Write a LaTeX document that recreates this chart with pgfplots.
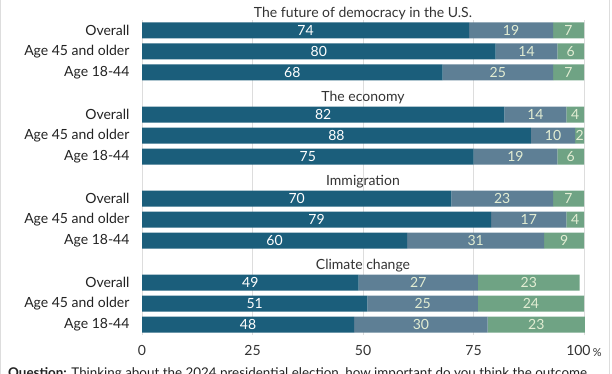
\documentclass[border=0pt]{standalone}
\usepackage{pgfplots}
\pgfplotsset{compat=1.18}
\usepackage{pgfplotstable}
\usepackage{fontspec}
\setmainfont{Lato}
\definecolor{cA}{HTML}{1B5E7B}
\definecolor{cB}{HTML}{5E7F95}
\definecolor{cC}{HTML}{6FA384}
\definecolor{lbl}{HTML}{E2EDD3}
\definecolor{gridc}{HTML}{DDDDDD}
\definecolor{txt}{HTML}{222222}
\definecolor{ttl}{HTML}{333333}

% y: row position; a, b, c: bar lengths; la, lb, lc: printed labels
\pgfplotstableread{
y    a   b     c     la  lb  lc
-1   74  19    7     74  19  7
-2   80  14    6     80  14  6
-3   68  25    7     68  25  7
-5   82  14    4     82  14  4
-6   88  10    2     88  10  2
-7   75  19    6     75  19  6
-9   70  23    7     70  23  7
-10  79  17    4     79  17  4
-11  60  31    9     60  31  9
-13  49  27    23    49  27  23
-14  51  25    24    51  25  24
-15  48  30.2  22    48  30  23
}\datatable

\pgfplotsset{
  commonaxis/.style={
    at={(142pt,-335pt)}, anchor=south west,
    scale only axis, width=442pt, height=315pt,
    xmin=0, xmax=100, ymin=-15.5, ymax=-0.5,
    axis line style={draw=none},
    tick style={draw=none},
    clip=false,
  },
  numlbl/.style={only marks, mark=none, nodes near coords, point meta=explicit symbolic,
    every node near coord/.append style={font=\fontsize{14}{16}\selectfont, anchor=center, inner sep=0pt, text=#1}},
}

\begin{document}
\begin{tikzpicture}[x=1pt,y=1pt]
\useasboundingbox (0,0) rectangle (612,-374);
\clip (0,0) rectangle (612,-374);
\draw[gridc,line width=1pt] (0.5,0) -- (0.5,-374);
\draw[gridc,line width=1pt] (609.5,0) -- (609.5,-374);
\begin{axis}[
  commonaxis,
  xbar stacked, bar width=16pt,
  xmajorgrids, grid style={gridc, line width=0.8pt},
  xtick={0,25,50,75,100},
  xticklabels={0,25,50,75,{100\,\raisebox{-0.5pt}{\fontsize{11}{12}\selectfont\%}}},
  xticklabel style={font=\fontsize{14}{16}\selectfont, text=ttl, yshift=-7pt},
  ytick={-1,-2,-3,-5,-6,-7,-9,-10,-11,-13,-14,-15},
  yticklabels={Overall,Age 45 and older,Age 18-44,Overall,Age 45 and older,Age 18-44,Overall,Age 45 and older,Age 18-44,Overall,Age 45 and older,Age 18-44},
  yticklabel style={font=\fontsize{14}{16}\selectfont, text=txt, xshift=-9pt},
  /pgf/number format/assume math mode=true,
]
\addplot[fill=cA, draw=none] table[x=a, y=y] {\datatable};
\addplot[fill=cB, draw=none] table[x=b, y=y] {\datatable};
\addplot[fill=cC, draw=none] table[x=c, y=y] {\datatable};
\node[font=\fontsize{14}{16}\selectfont, text=ttl] at (axis cs:50,-0.19) {The future of democracy in the U.S.};
\node[font=\fontsize{14}{16}\selectfont, text=ttl] at (axis cs:50,-4.19) {The economy};
\node[font=\fontsize{14}{16}\selectfont, text=ttl] at (axis cs:50,-8.19) {Immigration};
\node[font=\fontsize{14}{16}\selectfont, text=ttl] at (axis cs:50,-12.19) {Climate change};
\end{axis}
\begin{axis}[commonaxis, xtick=\empty, ytick=\empty]
\addplot[numlbl=white] table[x expr=\thisrow{a}/2, y=y, meta=la] {\datatable};
\addplot[numlbl=lbl] table[x expr=\thisrow{a}+\thisrow{b}/2, y=y, meta=lb] {\datatable};
\addplot[numlbl=lbl] table[x expr=\thisrow{a}+\thisrow{b}+\thisrow{c}/2, y=y, meta=lc] {\datatable};
\end{axis}
\node[anchor=base west, font=\fontsize{13.4}{16}\selectfont, text=txt, inner sep=0pt] at (8,-377) {\textbf{Question:} Thinking about the 2024 presidential election, how important do you think the outcome};
\end{tikzpicture}
\end{document}
